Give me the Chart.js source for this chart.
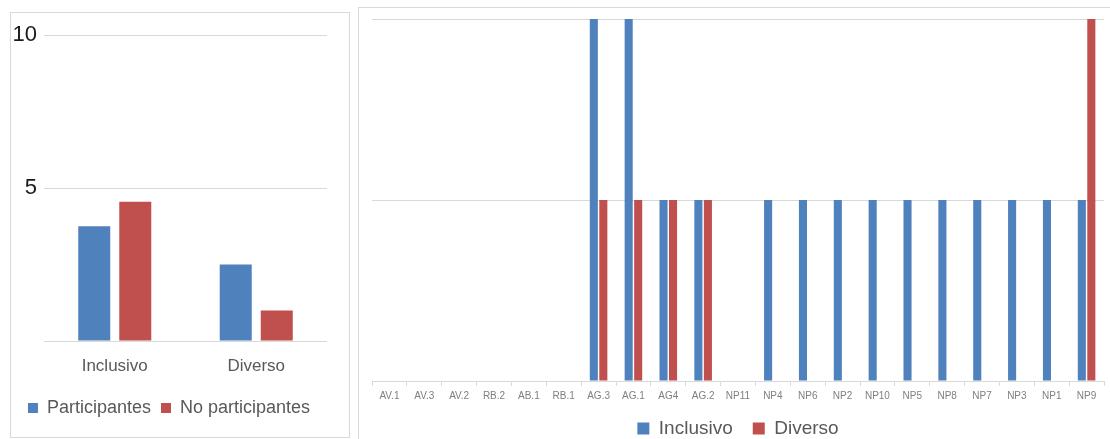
<!DOCTYPE html>
<html>
<head>
<meta charset="utf-8">
<script src="https://cdn.jsdelivr.net/npm/chart.js@4"></script>
<style>
  html, body { margin: 0; padding: 0; background: #fff; overflow: hidden; }
  .marco { position: absolute; border: 1px solid #d9d9d9; background: #fff; }
  #marcoIzq { left: 10px; top: 12px; width: 338px; height: 424px; }
  #marcoDer { left: 358px; top: 7px; width: 823px; height: 450px; }
  canvas { display: block; }
</style>
</head>
<body>
<div class="marco" id="marcoIzq"><canvas id="graficoIzq" width="338" height="424"></canvas></div>
<div class="marco" id="marcoDer"><canvas id="graficoDer" width="823" height="444"></canvas></div>
<script>
// datos del grafico de la izquierda
const categoriasIzq = ['Inclusivo', 'Diverso'];
const participantes = [3.75, 2.5];
const noParticipantes = [4.55, 1.0];

// datos del grafico de la derecha
const codigos = ['AV.1', 'AV.3', 'AV.2', 'RB.2', 'AB.1', 'RB.1', 'AG.3', 'AG.1', 'AG4', 'AG.2', 'NP11',
                 'NP4', 'NP6', 'NP2', 'NP10', 'NP5', 'NP8', 'NP7', 'NP3', 'NP1', 'NP9'];
const inclusivo = [0, 0, 0, 0, 0, 0, 2, 2, 1, 1, 0, 1, 1, 1, 1, 1, 1, 1, 1, 1, 1];
const diverso   = [0, 0, 0, 0, 0, 0, 1, 1, 1, 1, 0, 0, 0, 0, 0, 0, 0, 0, 0, 0, 2];

const AZUL = '#4f81bd';
const ROJO = '#c0504d';
const GRIS = '#d9d9d9';
const FUENTE = "'Liberation Sans', Arial, sans-serif";

////////////////////////grafico izquierdo////////////////////
document.addEventListener('DOMContentLoaded', function () {
  const ctx = document.getElementById('graficoIzq').getContext('2d');
  new Chart(ctx, {
    type: 'bar',
    data: {
      labels: categoriasIzq,
      datasets: [
        { label: 'Participantes', data: participantes, backgroundColor: AZUL },
        { label: 'No participantes', data: noParticipantes, backgroundColor: ROJO }
      ]
    },
    options: {
      responsive: false,
      animation: false,
      categoryPercentage: 0.58,
      barPercentage: 0.78,
      layout: { padding: { top: 22, right: 22, bottom: 10, left: 0 } },
      plugins: {
        legend: {
          position: 'bottom',
          labels: { boxWidth: 10, boxHeight: 10, padding: 10, color: '#595959', font: { family: FUENTE, size: 18 } }
        },
        tooltip: { enabled: false }
      },
      scales: {
        x: {
          grid: { display: false },
          border: { display: false },
          ticks: { color: '#595959', padding: 7, font: { family: FUENTE, size: 17 } },
          afterFit: function (s) { s.height = 48; }
        },
        y: {
          min: 0, max: 10,
          grid: { color: GRIS, lineWidth: 1, drawTicks: false },
          border: { display: false },
          ticks: {
            stepSize: 5, padding: 7, color: '#1a1a1a',
            font: { family: FUENTE, size: 22 },
            callback: function (v) { return v === 0 ? '' : v; }
          },
          afterFit: function (s) { s.width = 33; }
        }
      }
    }
  });
});

////////////////////////grafico derecho////////////////////
document.addEventListener('DOMContentLoaded', function () {
  const ctx = document.getElementById('graficoDer').getContext('2d');
  new Chart(ctx, {
    type: 'bar',
    data: {
      labels: codigos,
      datasets: [
        { label: 'Inclusivo', data: inclusivo, backgroundColor: AZUL },
        { label: 'Diverso', data: diverso, backgroundColor: ROJO }
      ]
    },
    options: {
      responsive: false,
      animation: false,
      categoryPercentage: 0.545,
      barPercentage: 0.85,
      layout: { padding: { top: 11, right: 78, bottom: 4, left: 13 } },
      plugins: {
        legend: {
          position: 'bottom',
          labels: { boxWidth: 12, boxHeight: 12, padding: 20, color: '#595959', font: { family: FUENTE, size: 19 } }
        },
        tooltip: { enabled: false }
      },
      scales: {
        x: {
          grid: { offset: true, drawOnChartArea: false, drawTicks: true, tickLength: 5, color: GRIS },
          border: { display: true, color: GRIS },
          ticks: { color: '#7f7f7f', padding: 4, maxRotation: 0, autoSkip: false, font: { family: FUENTE, size: 10 } },
          afterFit: function (s) { s.height = 18; }
        },
        y: {
          min: 0, max: 2,
          grid: { color: GRIS, lineWidth: 1, drawTicks: false },
          border: { display: false },
          ticks: { display: false, stepSize: 1 }
        }
      }
    }
  });
});
</script>
</body>
</html>
